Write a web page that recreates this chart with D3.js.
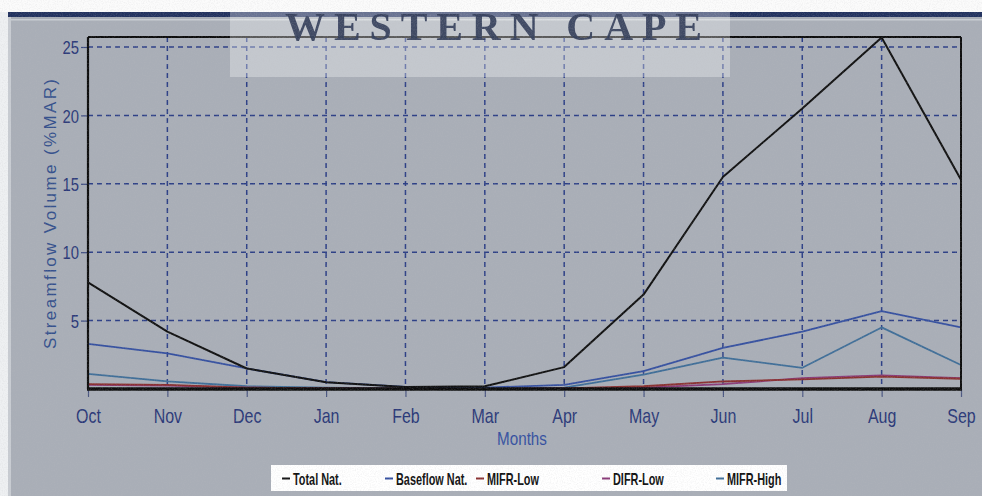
<!DOCTYPE html>
<html>
<head>
<meta charset="utf-8">
<script src="https://cdn.jsdelivr.net/npm/d3@7/dist/d3.min.js"></script>
<style>
  html, body { margin: 0; padding: 0; background: #ffffff; }
  svg { display: block; }
</style>
</head>
<body>
<svg id="chart" width="982" height="496"></svg>
<script>
// Monthly streamflow volumes as % of mean annual runoff
const months = ["Oct", "Nov", "Dec", "Jan", "Feb", "Mar", "Apr", "May", "Jun", "Jul", "Aug", "Sep"];
const totalNat = [7.8, 4.2, 1.5, 0.5, 0.15, 0.2, 1.6, 6.9, 15.5, 20.5, 25.7, 15.3];
const baseflowNat = [3.3, 2.6, 1.5, 0.5, 0.15, 0.1, 0.3, 1.3, 3.0, 4.2, 5.7, 4.5];
const mifrLow = [0.35, 0.3, 0.1, 0.05, 0.02, 0.02, 0.05, 0.2, 0.55, 0.7, 0.9, 0.75];
const difrLow = [0.3, 0.25, 0.1, 0.05, 0.02, 0.02, 0.03, 0.1, 0.35, 0.8, 1.0, 0.8];
const mifrHigh = [1.1, 0.55, 0.2, 0.1, 0.05, 0.05, 0.1, 1.05, 2.3, 1.55, 4.5, 1.75];
const yTicks = [5, 10, 15, 20, 25];
const seriesNames = ["Total Nat.", "Baseflow Nat.", "MIFR-Low", "DIFR-Low", "MIFR-High"];
const seriesColors = ["#111111", "#3550a0", "#8a3030", "#8a3a78", "#3f6e98"];
const seriesValues = [totalNat, baseflowNat, mifrLow, difrLow, mifrHigh];

const svg = d3.select("#chart");
const W = 982, H = 496;
const plot = { left: 88, right: 961, top: 37, bottom: 389 };
const sansFont = "'Liberation Sans', Arial, sans-serif";

const x = d3.scalePoint().domain(months).range([plot.left, plot.right]);
const y = d3.scaleLinear().domain([0, 25.73]).range([plot.bottom, plot.top]);

// squeeze text horizontally (about its own anchor) to imitate a condensed face
function condense(sel, factor) {
  sel.each(function () {
    const xv = +(this.getAttribute("x") || 0);
    d3.select(this).attr("x", xv / factor).attr("transform", `scale(${factor},1)`);
  });
}

const defs = svg.append("defs");
const grain = defs.append("filter").attr("id", "grain")
  .attr("x", 0).attr("y", 0).attr("width", "100%").attr("height", "100%");
grain.append("feTurbulence").attr("type", "fractalNoise")
  .attr("baseFrequency", 0.85).attr("numOctaves", 2).attr("seed", 4).attr("result", "n");
grain.append("feColorMatrix").attr("in", "n").attr("type", "matrix")
  .attr("values", "0 0 0 0 0.5  0 0 0 0 0.5  0 0 0 0 0.52  1.2 0 0 0 -0.5");

const soft = defs.append("filter").attr("id", "soft");
soft.append("feGaussianBlur").attr("stdDeviation", 0.6);

// page background
svg.append("rect").attr("x", 0).attr("y", 0).attr("width", W).attr("height", H).attr("fill", "#a9aeb7");
svg.append("rect").attr("x", 0).attr("y", 0).attr("width", W).attr("height", 12).attr("fill", "#fbfbfb");
svg.append("rect").attr("x", 0).attr("y", 12).attr("width", W).attr("height", 5).attr("fill", "#22325f");
svg.append("rect").attr("x", 0).attr("y", 19).attr("width", W).attr("height", 1.5).attr("fill", "#c9cdd3");
svg.append("rect").attr("x", 0).attr("y", 12).attr("width", 8).attr("height", H - 12).attr("fill", "#eef0f2");
svg.append("rect").attr("x", 8).attr("y", 17).attr("width", 3).attr("height", H - 17).attr("fill", "#c8ccd2");

// grid
const grid = svg.append("g").attr("stroke", "#2c3f86").attr("stroke-width", 1.5)
  .attr("stroke-dasharray", "5,4").attr("fill", "none");
grid.selectAll("line.h").data(yTicks).join("line").attr("class", "h")
  .attr("x1", plot.left).attr("x2", plot.right)
  .attr("y1", d => y(d)).attr("y2", d => y(d));
grid.selectAll("line.v").data(months.slice(1, -1)).join("line").attr("class", "v")
  .attr("x1", d => x(d)).attr("x2", d => x(d))
  .attr("y1", plot.top).attr("y2", plot.bottom);

// axes
const yAxis = d3.axisLeft(y).tickValues(yTicks).tickSize(7).tickPadding(2).tickFormat(d3.format("d"));
const yg = svg.append("g").attr("transform", `translate(${plot.left},0)`).call(yAxis);
yg.select(".domain").remove();
yg.selectAll("line").attr("stroke", "#3a4a80").attr("stroke-width", 1.2);
yg.selectAll("text").attr("fill", "#2a3878")
  .style("font-family", sansFont)
  .style("font-size", "18.5px").attr("dy", "0.36em")
  .call(condense, 0.8);

const xAxis = d3.axisBottom(x).tickSize(8).tickPadding(11);
const xg = svg.append("g").attr("transform", `translate(0,${plot.bottom})`).call(xAxis);
xg.select(".domain").remove();
xg.selectAll("line").attr("stroke", "#4a5680").attr("stroke-width", 1.2);
xg.selectAll("text").attr("fill", "#2a3878")
  .style("font-family", sansFont)
  .style("font-size", "20.5px")
  .call(condense, 0.78);

// series lines
const line = d3.line().x((d, i) => x(months[i])).y(d => y(d));
const order = [4, 3, 2, 1, 0];
svg.append("g").selectAll("path").data(order).join("path")
  .attr("d", k => line(seriesValues[k]))
  .attr("fill", "none")
  .attr("stroke", k => seriesColors[k])
  .attr("stroke-width", k => k === 0 ? 2 : 1.8)
  .attr("stroke-linejoin", "round");

// plot frame
const frame = svg.append("g").attr("stroke", "#0c0c0c").attr("fill", "none");
frame.append("line").attr("x1", plot.left).attr("x2", plot.right).attr("y1", plot.top).attr("y2", plot.top).attr("stroke-width", 2);
frame.append("line").attr("x1", plot.left).attr("x2", plot.left).attr("y1", plot.top).attr("y2", plot.bottom).attr("stroke-width", 2.2);
frame.append("line").attr("x1", plot.right).attr("x2", plot.right).attr("y1", plot.top).attr("y2", plot.bottom).attr("stroke-width", 2);
frame.append("line").attr("x1", plot.left - 1).attr("x2", plot.right + 1).attr("y1", plot.bottom).attr("y2", plot.bottom).attr("stroke-width", 3.5);

// axis titles
svg.append("text")
  .attr("transform", `translate(56,214) rotate(-90)`)
  .attr("text-anchor", "middle")
  .attr("textLength", 270).attr("lengthAdjust", "spacing")
  .attr("fill", "#34508c")
  .style("font-family", sansFont)
  .style("font-size", "17px")
  .text("Streamflow Volume (%MAR)");

svg.append("g").attr("transform", "translate(522,445)")
  .append("text")
  .attr("text-anchor", "middle")
  .attr("fill", "#3450a0")
  .style("font-family", sansFont)
  .style("font-size", "19px")
  .text("Months")
  .call(condense, 0.8);

// legend
const legendTextX = [293, 396, 487, 613, 727];
const lg = svg.append("g");
lg.append("rect").attr("x", 271).attr("y", 465).attr("width", 516).attr("height", 26).attr("fill", "#ffffff");
const items = lg.selectAll("g.item").data(seriesNames).join("g").attr("class", "item")
  .attr("transform", (d, i) => `translate(${legendTextX[i]},0)`);
items.append("line").attr("x1", -11).attr("x2", -3).attr("y1", 478.5).attr("y2", 478.5)
  .attr("stroke", (d, i) => seriesColors[i]).attr("stroke-width", 2);
items.append("text").attr("x", 0).attr("y", 485)
  .attr("fill", "#111")
  .style("font-family", sansFont)
  .style("font-size", "16.5px").style("font-weight", "bold")
  .text(d => d)
  .call(condense, 0.66);

// header banner
const banner = svg.append("g");
banner.append("rect").attr("x", 230).attr("y", 10).attr("width", 500).attr("height", 67)
  .attr("fill", "#ffffff").attr("opacity", 0.32);
banner.append("text")
  .attr("x", 285).attr("y", 40)
  .attr("textLength", 417).attr("lengthAdjust", "spacing")
  .attr("fill", "#36405c").attr("opacity", 0.92)
  .attr("filter", "url(#soft)")
  .style("font-family", "'Liberation Serif', 'Times New Roman', serif")
  .style("font-size", "40px").style("font-weight", "bold")
  .text("WESTERN CAPE");

// scanned-paper grain
svg.append("rect").attr("x", 0).attr("y", 0).attr("width", W).attr("height", H)
  .attr("filter", "url(#grain)").attr("opacity", 0.35).style("pointer-events", "none");
</script>
</body>
</html>
